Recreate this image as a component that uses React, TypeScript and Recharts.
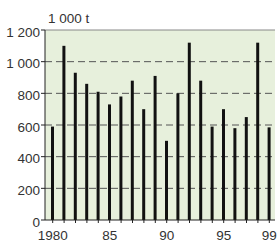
import React from 'react';
import { BarChart, Bar, XAxis, YAxis, CartesianGrid, ReferenceLine } from 'recharts';

const years = ['1980','1981','1982','1983','1984','1985','1986','1987','1988','1989','1990','1991','1992','1993','1994','1995','1996','1997','1998','1999'];
const values = [590, 1100, 930, 860, 810, 730, 780, 880, 700, 910, 500, 800, 1120, 880, 590, 700, 580, 650, 1120, 585];
const xLabels: Record<string, string> = { '1980': '1980', '1985': '85', '1990': '90', '1995': '95', '1999': '99' };
const yTicks = [0, 200, 400, 600, 800, 1000, 1200];
const gridValues = [200, 400, 600, 800, 1000];
const unitLabel = '1 000 t';

const data = years.map((y, i) => ({ year: y, value: values[i] }));

const fmtY = (v: number) => (v >= 1000 ? `${Math.floor(v / 1000)} ${String(v % 1000).padStart(3, '0')}` : String(v));

const FONT = 'Liberation Sans, Arial, sans-serif';

const YTick = (props: any) => {
  const { x, y, payload } = props;
  return (
    <text x={x} y={y + 2} dy="0.355em" textAnchor="end" fontFamily={FONT} fontSize={13.5} fill="#333">
      {fmtY(payload.value)}
    </text>
  );
};

export default function App() {
  return (
    <div style={{ position: 'absolute', left: 0, top: 0, width: 278, height: 242, background: '#fff' }}>
      <BarChart width={278} height={242} data={data} margin={{ top: 30, right: 3, left: 0, bottom: 0 }} barCategoryGap={0}>
        <CartesianGrid fill="#e7f0dc" vertical={false} stroke="#555" strokeDasharray="7 4" horizontalValues={gridValues} />
        <ReferenceLine y={1200} stroke="#888" strokeWidth={1} />
        <XAxis
          dataKey="year"
          interval={0}
          padding={{ left: 2, right: 0 }}
          height={22}
          tickSize={3}
          tickMargin={7}
          stroke="#222"
          tickFormatter={(v: string) => xLabels[v] ?? ''}
          tick={{ fontFamily: FONT, fontSize: 13.5, fill: '#333' }}
        />
        <YAxis
          domain={[0, 1200]}
          ticks={yTicks}
          width={45}
          tickSize={4}
          tickMargin={1}
          stroke="#222"
          tick={<YTick />}
        />
        <YAxis yAxisId="r" orientation="right" width={0} tick={false} tickLine={false} stroke="#999" />
        <Bar dataKey="value" fill="#111" barSize={3} isAnimationActive={false} />
      </BarChart>
      <div style={{ position: 'absolute', left: 48, top: 11, fontFamily: FONT, fontSize: 13.5, color: '#333', lineHeight: '16px' }}>
        {unitLabel}
      </div>
    </div>
  );
}
